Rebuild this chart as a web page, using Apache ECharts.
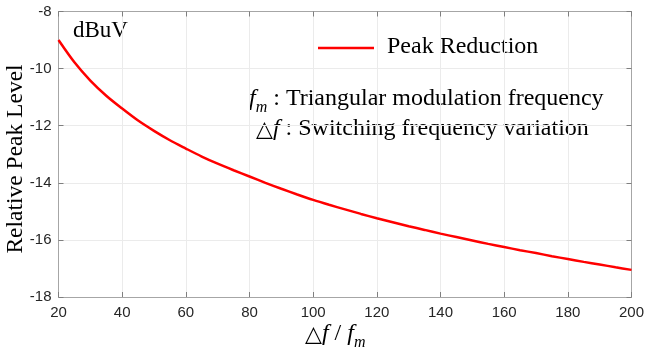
<!DOCTYPE html>
<html>
<head>
<meta charset="utf-8">
<script src="https://cdn.jsdelivr.net/npm/echarts@6/dist/echarts.min.js"></script>
<style>html,body{margin:0;padding:0;background:#fff}#c{width:647px;height:351px}</style>
</head>
<body>
<div id="c"></div>
<script>
const ratio = [20,25,30,35,40,45,50,55,60,65,70,75,80,85,90,95,100,105,110,115,120,125,130,135,140,145,150,155,160,165,170,175,180,185,190,195,200];
const peakReduction = [-9.00,-9.78,-10.42,-10.95,-11.40,-11.82,-12.18,-12.51,-12.80,-13.08,-13.33,-13.56,-13.78,-14.00,-14.21,-14.41,-14.60,-14.77,-14.93,-15.09,-15.24,-15.38,-15.52,-15.65,-15.78,-15.90,-16.02,-16.14,-16.25,-16.36,-16.46,-16.57,-16.67,-16.77,-16.86,-16.96,-17.05];
const xTicks = [20,40,60,80,100,120,140,160,180,200];
const yTicks = [-18,-16,-14,-12,-10,-8];
const seriesName = 'Peak Reduction';

const chart = echarts.init(document.getElementById('c'), null, {renderer:'canvas'});
const serif = '"Liberation Serif","Times New Roman",serif';
const sans = '"Liberation Sans",Arial,sans-serif';
const axisCol = '#a6a6a6';
const tickCol = '#7f7f7f';
const baseX = {
  type:'value', min:xTicks[0], max:xTicks[xTicks.length-1], interval:20,
  axisLine:{show:true, onZero:false, lineStyle:{color:axisCol, width:1}},
  axisTick:{show:true, inside:true, length:5, lineStyle:{color:tickCol}},
  splitLine:{show:false}
};
const baseY = {
  type:'value', min:yTicks[0], max:yTicks[yTicks.length-1], interval:2,
  axisLine:{show:true, onZero:false, lineStyle:{color:axisCol, width:1}},
  axisTick:{show:true, inside:true, length:5, lineStyle:{color:tickCol}},
  splitLine:{show:false}
};
chart.setOption({
  animation:false,
  grid:{left:58.5, right:13.5, top:11.5, bottom:54, containLabel:false},
  xAxis:[
    Object.assign({}, baseX, {position:'bottom',
      axisLabel:{show:true, color:'#262626', fontFamily:sans, fontSize:15, margin:8},
      splitLine:{show:true, lineStyle:{color:'#ebebeb', width:1}}}),
    Object.assign({}, baseX, {position:'top', axisLabel:{show:false}})
  ],
  yAxis:[
    Object.assign({}, baseY, {position:'left',
      axisLabel:{show:true, color:'#262626', fontFamily:sans, fontSize:15, margin:7},
      splitLine:{show:true, lineStyle:{color:'#ebebeb', width:1}}}),
    Object.assign({}, baseY, {position:'right', axisLabel:{show:false}})
  ],
  legend:{show:false},
  series:[{
    name:seriesName, type:'line', xAxisIndex:0, yAxisIndex:0,
    data:ratio.map((x,i)=>[x, peakReduction[i]]),
    smooth:0.3, showSymbol:false, symbol:'none',
    lineStyle:{color:'#ff0000', width:2.5}
  }],
  graphic:[
    {type:'line', shape:{x1:318, y1:48, x2:374, y2:48}, style:{stroke:'#ff0000', lineWidth:2.5}},
    {type:'text', left:387, top:35, style:{text:seriesName, font:'24px '+serif, fill:'#000'}},
    {type:'text', left:73, top:19, style:{text:'dBuV', font:'23px '+serif, fill:'#000'}},
    {type:'text', left:249, top:87, style:{
      text:'{i|f}{s|m}{n| : Triangular modulation frequency}',
      rich:{
        i:{fontFamily:serif, fontStyle:'italic', fontSize:24, color:'#000', verticalAlign:'bottom', lineHeight:28},
        s:{fontFamily:serif, fontStyle:'italic', fontSize:16, color:'#000', verticalAlign:'bottom', lineHeight:20, padding:[0,0,-5,0]},
        n:{fontFamily:serif, fontSize:24, color:'#000', verticalAlign:'bottom', lineHeight:28}
      }}},
    {type:'text', left:256, top:117, style:{
      text:'{t|△}{i|f}{n| : Switching frequency variation}',
      rich:{
        t:{fontFamily:'"DejaVu Sans",'+serif, fontSize:22, color:'#000', verticalAlign:'bottom', lineHeight:28},
        i:{fontFamily:serif, fontStyle:'italic', fontSize:24, color:'#000', verticalAlign:'bottom', lineHeight:28},
        n:{fontFamily:serif, fontSize:24, color:'#000', verticalAlign:'bottom', lineHeight:28}
      }}},
    {type:'text', left:305, top:322, style:{
      text:'{t|△}{i|f}{n| / }{i|f}{s|m}',
      rich:{
        t:{fontFamily:'"DejaVu Sans",'+serif, fontSize:22, color:'#000', verticalAlign:'bottom', lineHeight:28},
        i:{fontFamily:serif, fontStyle:'italic', fontSize:24, color:'#000', verticalAlign:'bottom', lineHeight:28},
        s:{fontFamily:serif, fontStyle:'italic', fontSize:16, color:'#000', verticalAlign:'bottom', lineHeight:20, padding:[0,0,-5,0]},
        n:{fontFamily:serif, fontSize:24, color:'#000', verticalAlign:'bottom', lineHeight:28}
      }}},
    {type:'text', x:16, y:159, rotation:Math.PI/2, style:{
      text:'Relative Peak Level', font:'23.5px '+serif, fill:'#000', textAlign:'center', textVerticalAlign:'middle'}}
  ]
});
</script>
</body>
</html>
